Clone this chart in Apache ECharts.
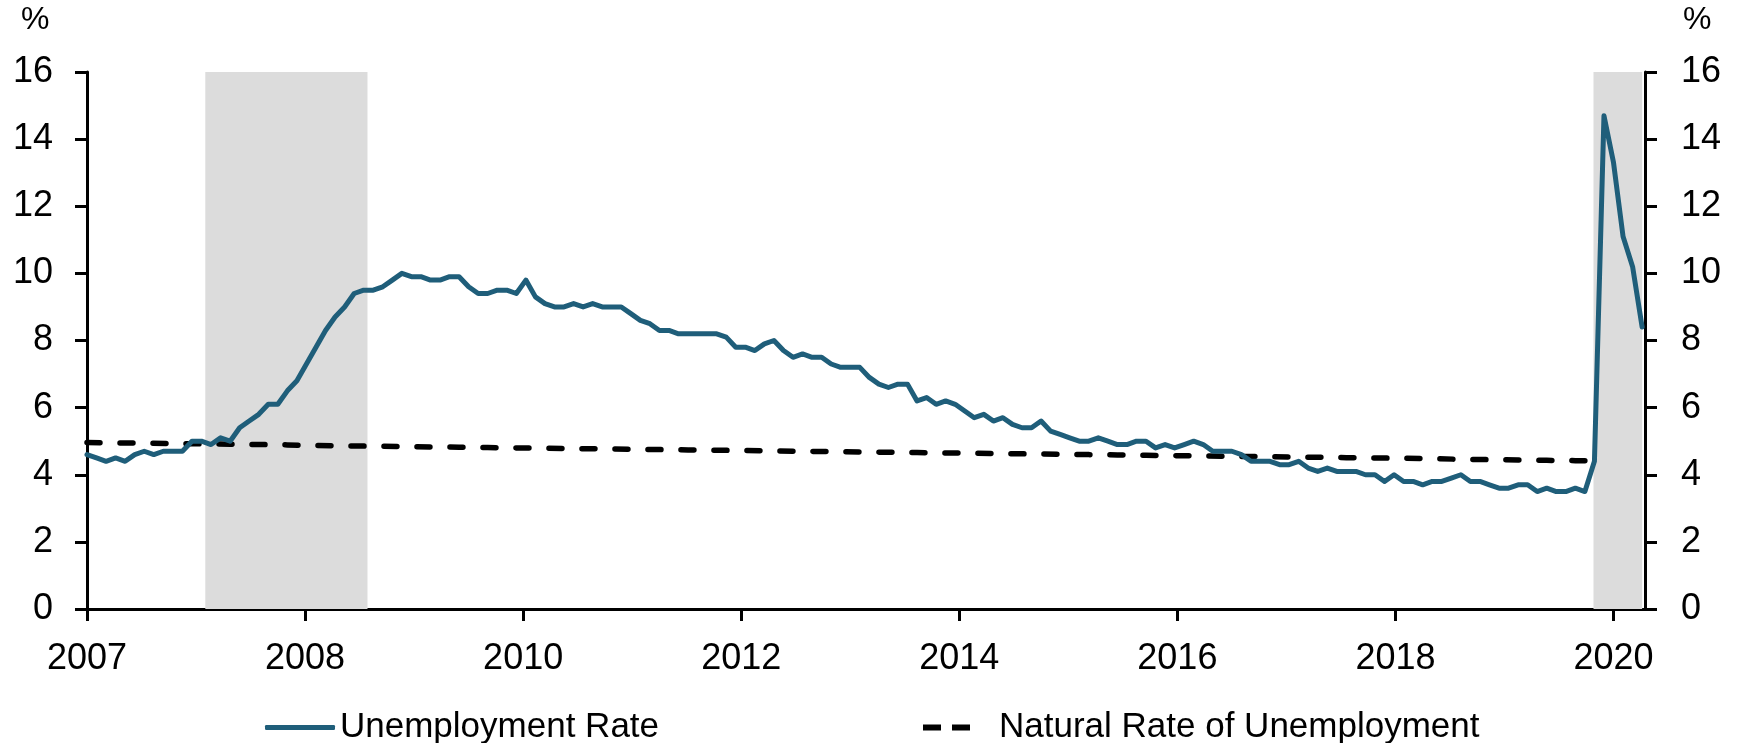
<!DOCTYPE html>
<html>
<head>
<meta charset="utf-8">
<title>Unemployment Rate vs Natural Rate</title>
<script src="https://cdn.jsdelivr.net/npm/echarts@6/dist/echarts.min.js"></script>
<style>
  html, body { margin: 0; padding: 0; background: #fff; }
  #chart { width: 1737px; height: 743px; }
</style>
</head>
<body>
<div id="chart"></div>
<script>
// monthly unemployment rate, Jan 2007 .. Aug 2020 (%)
const unemployment = [
  4.6, 4.5, 4.4, 4.5, 4.4, 4.6, 4.7, 4.6, 4.7, 4.7, 4.7, 5.0,
  5.0, 4.9, 5.1, 5.0, 5.4, 5.6, 5.8, 6.1, 6.1, 6.5, 6.8, 7.3,
  7.8, 8.3, 8.7, 9.0, 9.4, 9.5, 9.5, 9.6, 9.8, 10.0, 9.9, 9.9,
  9.8, 9.8, 9.9, 9.9, 9.6, 9.4, 9.4, 9.5, 9.5, 9.4, 9.8, 9.3,
  9.1, 9.0, 9.0, 9.1, 9.0, 9.1, 9.0, 9.0, 9.0, 8.8, 8.6, 8.5,
  8.3, 8.3, 8.2, 8.2, 8.2, 8.2, 8.2, 8.1, 7.8, 7.8, 7.7, 7.9,
  8.0, 7.7, 7.5, 7.6, 7.5, 7.5, 7.3, 7.2, 7.2, 7.2, 6.9, 6.7,
  6.6, 6.7, 6.7, 6.2, 6.3, 6.1, 6.2, 6.1, 5.9, 5.7, 5.8, 5.6,
  5.7, 5.5, 5.4, 5.4, 5.6, 5.3, 5.2, 5.1, 5.0, 5.0, 5.1, 5.0,
  4.9, 4.9, 5.0, 5.0, 4.8, 4.9, 4.8, 4.9, 5.0, 4.9, 4.7, 4.7,
  4.7, 4.6, 4.4, 4.4, 4.4, 4.3, 4.3, 4.4, 4.2, 4.1, 4.2, 4.1,
  4.1, 4.1, 4.0, 4.0, 3.8, 4.0, 3.8, 3.8, 3.7, 3.8, 3.8, 3.9,
  4.0, 3.8, 3.8, 3.7, 3.6, 3.6, 3.7, 3.7, 3.5, 3.6, 3.5, 3.5,
  3.6, 3.5, 4.4, 14.7, 13.3, 11.1, 10.2, 8.4
]

// quarterly natural rate, 2007Q1 .. 2020Q2 (%)
const naturalRate = [
  4.96, 4.95, 4.94, 4.93,
  4.92, 4.91, 4.90, 4.89,
  4.87, 4.86, 4.85, 4.84,
  4.83, 4.82, 4.81, 4.80,
  4.79, 4.78, 4.77, 4.76,
  4.75, 4.74, 4.73, 4.72,
  4.71, 4.70, 4.69, 4.68,
  4.67, 4.66, 4.65, 4.64,
  4.63, 4.62, 4.61, 4.60,
  4.59, 4.58, 4.57, 4.56,
  4.55, 4.54, 4.53, 4.52,
  4.51, 4.50, 4.49, 4.48,
  4.46, 4.45, 4.44, 4.43,
  4.42, 4.41
]

// shaded periods, in months from Jan 2007
const recessions = [[12.4, 29.4], [157.9, 163]]

// x tick labels as printed on the chart
const xTickLabels = ['2007', '2008', '2010', '2012', '2014', '2016', '2018', '2020']
const yTicks = [0, 2, 4, 6, 8, 10, 12, 14, 16]

const tickStep = 160 / 7
const xTickValues = xTickLabels.map((_, i) => i * tickStep)

const unemploymentData = unemployment.map((v, i) => [i, v])
const naturalData = naturalRate.map((v, i) => [i * 3, v])

const FONT = '"Liberation Sans", Arial, sans-serif'
const TEAL = '#1f5e7a'

let chart = echarts.init(document.getElementById('chart'))

//y axis shared look
function yAxisCfg(pos, margin) {
  return {
    type: 'value',
    position: pos,
    min: yTicks[0],
    max: yTicks[yTicks.length - 1],
    interval: 2,
    splitLine: {show: false},
    axisLine: {show: true, lineStyle: {color: '#000', width: 3}},
    axisTick: {show: true, inside: false, length: 12, lineStyle: {color: '#000', width: 3}},
    axisLabel: {color: '#000', fontSize: 36, fontFamily: FONT, margin: margin}
  }
}

let option = {
  animation: false,
  backgroundColor: '#fff',
  grid: {left: 87, right: 92, top: 72, bottom: 134, containLabel: false},
  xAxis: {
    type: 'value',
    min: 0,
    max: 163.3,
    splitLine: {show: false},
    axisLine: {onZero: false, lineStyle: {color: '#000', width: 3}},
    axisTick: {show: true, length: 12, customValues: xTickValues, lineStyle: {color: '#000', width: 3}},
    axisLabel: {
      color: '#000', fontSize: 36, fontFamily: FONT, margin: 32,
      customValues: xTickValues,
      formatter: v => xTickLabels[Math.round(v / tickStep)] || ''
    }
  },
  yAxis: [yAxisCfg('left', 34), yAxisCfg('right', 36)],
  graphic: [
    //% marks above both axes
    {type: 'text', left: 21, top: 4, style: {text: '%', fontSize: 32, fontFamily: FONT, fill: '#000'}},
    {type: 'text', left: 1683, top: 4, style: {text: '%', fontSize: 32, fontFamily: FONT, fill: '#000'}}
  ],
  legend: [
    {
      left: 260, top: 705, itemWidth: 70, itemHeight: 5,
      textStyle: {fontSize: 35, fontFamily: FONT, color: '#000'},
      data: [{name: 'Unemployment Rate', icon: 'roundRect', itemStyle: {color: TEAL}}]
    },
    {
      left: 918, top: 705, itemWidth: 47, itemHeight: 6,
      textStyle: {fontSize: 35, fontFamily: FONT, color: '#000', padding: [0, 0, 0, 24]},
      data: [{
        name: 'Natural Rate of Unemployment',
        icon: 'path://M0,0h18v6h-18z M29,0h18v6h-18z',
        itemStyle: {color: '#000'}
      }]
    }
  ],
  series: [
    {
      //shaded bands
      type: 'line',
      data: [],
      silent: true,
      z: 1,
      markArea: {
        silent: true,
        itemStyle: {color: '#dcdcdc'},
        data: recessions.map(r => [{xAxis: r[0]}, {xAxis: r[1]}])
      }
    },
    {
      name: 'Natural Rate of Unemployment',
      type: 'line',
      data: naturalData,
      showSymbol: false,
      symbol: 'none',
      z: 3,
      lineStyle: {color: '#000', width: 5.5, type: [13, 20], cap: 'round'},
      itemStyle: {color: '#000'}
    },
    {
      name: 'Unemployment Rate',
      type: 'line',
      data: unemploymentData,
      showSymbol: false,
      symbol: 'none',
      z: 4,
      lineStyle: {color: TEAL, width: 5, cap: 'round', join: 'round'},
      itemStyle: {color: TEAL}
    }
  ]
}

chart.setOption(option)
</script>
</body>
</html>
